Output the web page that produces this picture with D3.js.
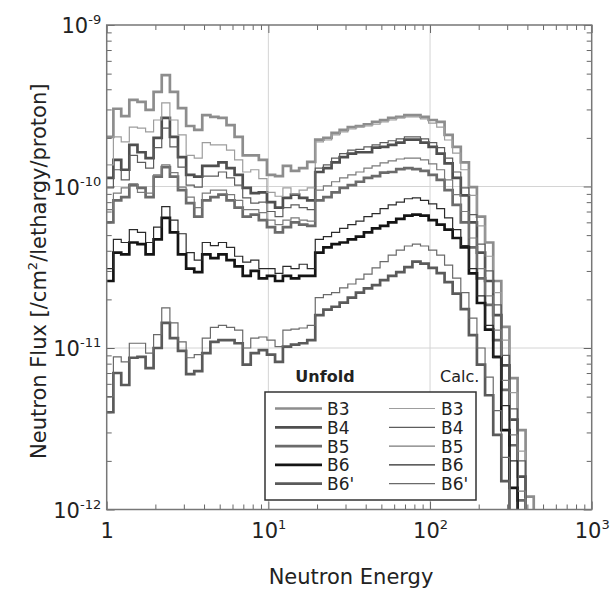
<!DOCTYPE html>
<html>
<head>
<meta charset="utf-8">
<script src="https://cdnjs.cloudflare.com/ajax/libs/d3/7.8.5/d3.min.js"></script>
<style>
  body { margin: 0; background: #fff; }
  text { font-family: "DejaVu Sans", "Liberation Sans", Arial, sans-serif; fill: #222; }
</style>
</head>
<body>
<svg id="chart" width="611" height="594"></svg>
<script>
// bin edges of the histograms (MeV)
var edges = [1, 1.1, 1.23, 1.38, 1.55, 1.74, 1.95, 2.19, 2.46, 2.76, 3.10, 3.48, 3.90, 4.38,
  4.91, 5.51, 6.18, 6.94, 7.78, 8.73, 9.80, 11.0, 12.3, 13.8, 15.5, 17.4, 19.5, 21.9, 24.6,
  27.6, 31.0, 34.8, 39.0, 43.8, 49.1, 55.1, 61.8, 69.4, 77.8, 87.3, 98.0, 110, 123, 138,
  155, 174, 195, 219, 246, 276, 310, 348, 390, 438, 491, 551];

// flux per bin, in units of 1e-12 /cm2/lethargy/proton
var fluxUnit = 1e-12;
var b3Unfold = [203, 303, 273, 344, 334, 298, 385, 490, 385, 306, 237, 224, 277, 270, 266, 240,
  203, 156, 156, 146, 118, 116, 134, 125, 130, 142, 195, 200, 215, 224, 233, 237, 243, 251,
  258, 266, 270, 277, 277, 270, 258, 251, 209, 176, 141, 99, 65, 45, 26, 13.5, 6.5, 3.1, 1.2, 0.5];
var b3Calc = [136, 203, 189, 233, 230, 218, 258, 329, 258, 209, 156, 150, 187, 181, 181, 168,
  146, 123, 127, 112, 92, 87, 98, 90, 95, 98, 189, 194, 209, 218, 227, 233, 237, 243, 251,
  258, 266, 270, 270, 262, 247, 233, 194, 161, 127, 88, 57, 37, 22, 11.2, 5.3, 2.3, 0.9];
var b4Unfold = [113, 146, 127, 181, 163, 150, 200, 266, 203, 152, 118, 115, 134, 134, 141, 130,
  118, 98, 91, 92, 80, 74, 85, 89, 85, 82, 123, 130, 141, 152, 160, 163, 163, 174, 176, 181,
  187, 195, 195, 187, 176, 160, 139, 113, 88, 60, 39, 26, 16, 7.8, 3.6, 1.6, 0.65];
var b4Calc = [98, 127, 110, 156, 141, 130, 174, 230, 176, 132, 102, 99, 116, 116, 123, 113,
  102, 85, 79, 80, 70, 65, 74, 77, 74, 72, 130, 136, 150, 160, 168, 170, 176, 181, 187, 192,
  197, 203, 203, 197, 187, 174, 150, 123, 98, 67, 44, 30, 18.5, 9, 4.2, 2, 0.8];
var b5Unfold = [60, 82, 86, 102, 98, 86, 115, 132, 115, 95, 79, 65, 82, 86, 89, 82, 74, 65, 67,
  62, 56, 52, 56, 60, 58, 57, 82, 86, 92, 98, 102, 107, 113, 116, 122, 123, 128, 130, 128, 125,
  118, 110, 95, 77, 60, 42, 27, 18.5, 11.2, 5.5, 2.5, 1.14, 0.49];
var b5Calc = [72, 91, 98, 104, 92, 91, 118, 136, 122, 99, 86, 74, 91, 95, 95, 89, 82, 72, 72,
  69, 62, 58, 62, 64, 62, 61, 95, 101, 107, 113, 118, 123, 130, 134, 140, 144, 148, 150, 150,
  146, 138, 127, 110, 89, 70, 48, 31, 21, 12.9, 6.3, 2.9, 1.3, 0.52];
var b6Unfold = [26, 39, 38, 45, 44, 38, 47, 64, 52, 38, 31, 29.5, 38, 36, 38, 35, 32, 28, 30,
  27, 28, 26, 28, 27, 28, 28, 39, 42, 44, 45, 47, 49, 52, 55, 57, 60, 63, 66, 67, 66, 62, 58,
  54, 48, 42, 29, 19, 13, 8.8, 3.1, 1.36, 0.56];
var b6Calc = [31, 47, 45, 54, 52, 45, 56, 75, 62, 51, 39, 35, 45, 43, 45, 42, 37, 34, 35, 31,
  31, 29, 32, 31, 33, 31, 47, 49, 52, 55, 58, 61, 65, 68, 73, 77, 80, 84, 85, 82, 78, 73, 64,
  54, 43, 31, 21, 13.8, 8.7, 4.4, 2, 0.86];
var b6pUnfold = [4.0, 7.0, 5.9, 8.7, 8.8, 7.5, 10, 14.3, 11.5, 9.6, 6.9, 7.2, 9.3, 10.9, 11.2,
  11.2, 10.7, 7.9, 9.3, 9.7, 9.1, 8.2, 10.2, 10.5, 10.7, 11.2, 16, 17.3, 18, 19.1, 20.5, 22,
  23.4, 24.5, 26.3, 28, 29.5, 31.7, 34.3, 33.3, 31.3, 29.1, 25.6, 21.7, 17.4, 12, 7.9, 5.1,
  2.9, 1.5, 0.75];
var b6pCalc = [5.0, 8.8, 8.2, 10.7, 10.7, 9.3, 12.1, 17.7, 14.3, 10.9, 8.7, 9.1, 11.5, 13.4,
  13.8, 13.4, 12.9, 10, 11.5, 11.7, 11.2, 10.2, 12.9, 13.1, 13.3, 13.8, 20.5, 21.4, 22, 23.6,
  24.9, 26.7, 28.7, 31.3, 34.3, 37.6, 40.4, 42.8, 44, 42.8, 40.4, 37.6, 32.6, 27.1, 22, 15.3,
  10, 6.6, 4.1, 2.1, 0.96];

var labels = ['B3', 'B4', 'B5', 'B6', "B6'"];
var unfoldSeries = [b3Unfold, b4Unfold, b5Unfold, b6Unfold, b6pUnfold];
var calcSeries = [b3Calc, b4Calc, b5Calc, b6Calc, b6pCalc];

// styles
var unfoldColors = ['#8d8d8d', '#4f4f4f', '#6b6b6b', '#141414', '#5a5a5a'];
var calcColors = ['#9d9d9d', '#5c5c5c', '#7a7a7a', '#2a2a2a', '#6a6a6a'];
var labelColors = ['#a3a3a3', '#808080', '#8a8a8a', '#151515', '#7b7b7b'];

var svg = d3.select('#chart');
var x = d3.scaleLog().domain([1, 1000]).range([106.7, 591.7]);
var y = d3.scaleLog().domain([1e-12, 1e-9]).range([509.5, 25]);
var x0 = x.range()[0], x1 = x.range()[1], yTop = y.range()[1], yBot = y.range()[0];

svg.append('defs').append('clipPath').attr('id', 'plotClip')
  .append('rect')
  .attr('x', x0).attr('y', yTop)
  .attr('width', x1 - x0).attr('height', yBot - yTop);

// grid lines at inner decades
var grid = svg.append('g').attr('stroke', '#d4d4d4').attr('stroke-width', 1);
grid.selectAll('.gx').data([10, 100]).enter().append('line')
  .attr('x1', function(d) { return x(d); }).attr('x2', function(d) { return x(d); })
  .attr('y1', yTop).attr('y2', yBot);
grid.selectAll('.gy').data([1e-11, 1e-10]).enter().append('line')
  .attr('y1', function(d) { return y(d); }).attr('y2', function(d) { return y(d); })
  .attr('x1', x0).attr('x2', x1);

function stepPoints(vals) {
  var pts = vals.map(function(v, i) { return [edges[i], v * fluxUnit]; });
  pts.push([edges[vals.length], vals[vals.length - 1] * fluxUnit]);
  return pts;
}
var line = d3.line()
  .x(function(d) { return x(d[0]); })
  .y(function(d) { return y(d[1]); })
  .curve(d3.curveStepAfter);

var plot = svg.append('g').attr('clip-path', 'url(#plotClip)').attr('fill', 'none');
plot.selectAll('.unfold').data(unfoldSeries).enter().append('path')
  .attr('class', 'unfold')
  .attr('d', function(d) { return line(stepPoints(d)); })
  .attr('stroke', function(d, i) { return unfoldColors[i]; })
  .attr('stroke-width', 2.7);
plot.selectAll('.calc').data(calcSeries).enter().append('path')
  .attr('class', 'calc')
  .attr('d', function(d) { return line(stepPoints(d)); })
  .attr('stroke', function(d, i) { return calcColors[i]; })
  .attr('stroke-width', 1.2);

// axes, ticks pointing inward
function isMajor(d) { return Math.abs(Math.log10(d) - Math.round(Math.log10(d))) < 1e-6; }
function expLabel(sel, d) {
  var p = Math.round(Math.log10(d));
  sel.text('');
  if (p === 0) { sel.append('tspan').text('1'); return; }
  sel.append('tspan').text('10');
  sel.append('tspan').attr('dy', -9).attr('font-size', 13).text(String(p));
}
function styleTicks(g, major, minor) {
  g.select('.domain').remove();
  g.selectAll('.tick line').attr('stroke', '#666').attr('stroke-width', 1);
  g.selectAll('.tick').filter(isMajor).select('line').each(function() {
    var l = d3.select(this);
    ['x2', 'y2'].forEach(function(a) {
      var v = +l.attr(a);
      if (v) l.attr(a, v > 0 ? major : -major);
    });
  });
}

var xb = svg.append('g').attr('transform', 'translate(0,' + yBot + ')')
  .call(d3.axisBottom(x).tickValues(x.ticks()).tickSize(-5).tickFormat(''));
styleTicks(xb, 8);
xb.selectAll('.tick').filter(isMajor).each(function(d) {
  var t = d3.select(this).select('text')
    .attr('y', 28.5).attr('dy', null).attr('font-size', 21).attr('fill', '#222');
  expLabel(t, d);
});

var xt = svg.append('g').attr('transform', 'translate(0,' + yTop + ')')
  .call(d3.axisTop(x).tickValues(x.ticks()).tickSize(-5).tickFormat(''));
styleTicks(xt, 8);

var yl = svg.append('g').attr('transform', 'translate(' + x0 + ',0)')
  .call(d3.axisLeft(y).tickValues(y.ticks()).tickSize(-5).tickFormat(''));
styleTicks(yl, 8);
yl.selectAll('.tick').filter(isMajor).each(function(d) {
  var t = d3.select(this).select('text')
    .attr('x', -5.5).attr('y', 7.5).attr('dy', null)
    .attr('font-size', 21).attr('text-anchor', 'end').attr('fill', '#222');
  expLabel(t, d);
});

var yr = svg.append('g').attr('transform', 'translate(' + x1 + ',0)')
  .call(d3.axisRight(y).tickValues(y.ticks()).tickSize(-5).tickFormat(''));
styleTicks(yr, 8);

svg.append('rect')
  .attr('x', x0).attr('y', yTop).attr('width', x1 - x0).attr('height', yBot - yTop)
  .attr('fill', 'none').attr('stroke', '#777').attr('stroke-width', 1.5);

// axis titles
svg.append('text')
  .attr('x', 351).attr('y', 584).attr('text-anchor', 'middle').attr('font-size', 21)
  .text('Neutron Energy');
var yTitle = svg.append('text')
  .attr('transform', 'translate(46,' + ((yTop + yBot) / 2 + 4) + ') rotate(-90)')
  .attr('text-anchor', 'middle').attr('font-size', 21);
yTitle.append('tspan').text('Neutron Flux [/cm');
yTitle.append('tspan').attr('dy', -9).attr('font-size', 13).text('2');
yTitle.append('tspan').attr('dy', 9).text('/lethargy/proton]');

// legend
var legend = svg.append('g');
legend.append('rect')
  .attr('x', 265).attr('y', 392).attr('width', 211).attr('height', 108)
  .attr('fill', '#fff').attr('stroke', '#333').attr('stroke-width', 1.5);
legend.append('text').attr('x', 325).attr('y', 382).attr('text-anchor', 'middle')
  .attr('font-size', 16).attr('font-weight', 'bold').text('Unfold');
legend.append('text').attr('x', 440).attr('y', 382)
  .attr('font-size', 16).attr('fill', '#555').text('Calc.');
var rows = legend.selectAll('.row').data(labels).enter().append('g')
  .attr('transform', function(d, i) { return 'translate(0,' + (408.5 + i * 18.8) + ')'; });
rows.append('line').attr('x1', 275).attr('x2', 322)
  .attr('stroke', function(d, i) { return unfoldColors[i]; }).attr('stroke-width', 2.7);
rows.append('line').attr('x1', 389).attr('x2', 435)
  .attr('stroke', function(d, i) { return calcColors[i]; }).attr('stroke-width', 1.2);
rows.append('text').attr('x', 327).attr('y', 6.5).attr('font-size', 17)
  .attr('fill', function(d, i) { return labelColors[i]; }).text(function(d) { return d; });
rows.append('text').attr('x', 441).attr('y', 6.5).attr('font-size', 17)
  .attr('fill', function(d, i) { return labelColors[i]; }).text(function(d) { return d; });
</script>
</body>
</html>
